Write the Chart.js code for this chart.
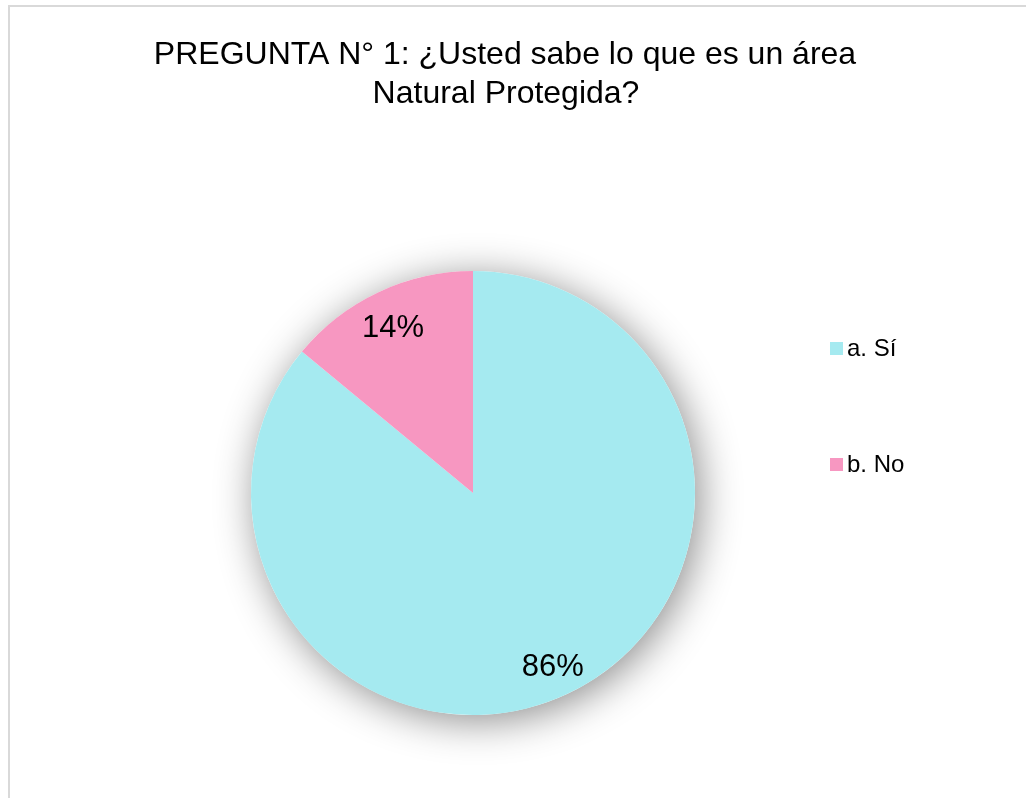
<!DOCTYPE html>
<html>
<head>
<meta charset="utf-8">
<script src="https://cdn.jsdelivr.net/npm/chart.js@4/dist/chart.umd.min.js"></script>
<style>
  html, body { margin: 0; padding: 0; background: #fff; }
  #wrap { position: relative; width: 1026px; height: 798px; overflow: hidden; }
  #frame { position: absolute; left: 8px; top: 5px; width: 1040px; height: 820px;
           border-top: 2px solid #d9d9d9; border-left: 2px solid #d9d9d9; box-sizing: border-box; }
  canvas { position: absolute; left: 0; top: 0; }
</style>
</head>
<body>
<div id="wrap">
  <div id="frame"></div>
  <canvas id="pieChart" width="1026" height="798"></canvas>
</div>
<script>
// Chart data
const categories = ['a. Sí', 'b. No'];
const values = [86, 14];
const sliceColors = ['#a5eaf0', '#f797c1'];
const titleLines = ['PREGUNTA N° 1: ¿Usted sabe lo que es un área', 'Natural Protegida?'];

const FONT = '"Liberation Sans", Arial, sans-serif';

// shadow under the whole pie, drawn once so slices don't shade each other
const pieShadow = {
    id: 'pieShadow',
    beforeDatasetsDraw(chart) {
        const arc = chart.getDatasetMeta(0).data[0];
        if (!arc) return;
        const { x, y, outerRadius } = arc.getProps(['x', 'y', 'outerRadius'], true);
        const ctx = chart.ctx;
        ctx.save();
        ctx.shadowColor = 'rgba(0, 0, 0, 0.45)';
        ctx.shadowBlur = 40;
        ctx.shadowOffsetX = 5;
        ctx.shadowOffsetY = 6;
        ctx.fillStyle = '#ffffff';
        ctx.beginPath();
        ctx.arc(x, y, outerRadius, 0, Math.PI * 2);
        ctx.fill();
        ctx.restore();
    }
};

// percentage labels inside the slices
const sliceLabels = {
    id: 'sliceLabels',
    afterDatasetsDraw(chart) {
        const ctx = chart.ctx;
        const total = values.reduce((a, b) => a + b, 0);
        ctx.save();
        ctx.font = '31px ' + FONT;
        ctx.fillStyle = '#000';
        ctx.textAlign = 'center';
        ctx.textBaseline = 'middle';
        chart.getDatasetMeta(0).data.forEach((arc, i) => {
            const p = arc.getProps(['x', 'y', 'startAngle', 'endAngle', 'outerRadius'], true);
            const mid = (p.startAngle + p.endAngle) / 2;
            const r = p.outerRadius * 0.845;
            const pct = Math.round(values[i] / total * 100) + '%';
            ctx.fillText(pct, p.x + Math.cos(mid) * r, p.y + Math.sin(mid) * r + 5);
        });
        ctx.restore();
    }
};

// title and legend text
const chartText = {
    id: 'chartText',
    afterDraw(chart) {
        const ctx = chart.ctx;
        ctx.save();
        ctx.fillStyle = '#000';
        ctx.textBaseline = 'middle';
        ctx.textAlign = 'center';
        ctx.font = '32px ' + FONT;
        ctx.fillText(titleLines[0], 505, 55);
        ctx.fillText(titleLines[1], 506, 94);

        ctx.textAlign = 'left';
        ctx.font = '24px ' + FONT;
        const legendY = [348, 464];
        categories.forEach((label, i) => {
            ctx.fillStyle = sliceColors[i];
            ctx.fillRect(830, legendY[i] - 6, 13, 13);
            ctx.fillStyle = '#000';
            ctx.fillText(label, 847, legendY[i] + 1);
        });
        ctx.restore();
    }
};

new Chart(document.getElementById('pieChart'), {
    type: 'pie',
    data: {
        labels: categories,
        datasets: [{
            data: values,
            backgroundColor: sliceColors,
            borderWidth: 0
        }]
    },
    options: {
        responsive: false,
        animation: false,
        layout: {
            padding: { left: 251, top: 271, right: 331, bottom: 83 }
        },
        plugins: {
            legend: { display: false },
            title: { display: false },
            tooltip: { enabled: false }
        }
    },
    plugins: [pieShadow, sliceLabels, chartText]
});
</script>
</body>
</html>
